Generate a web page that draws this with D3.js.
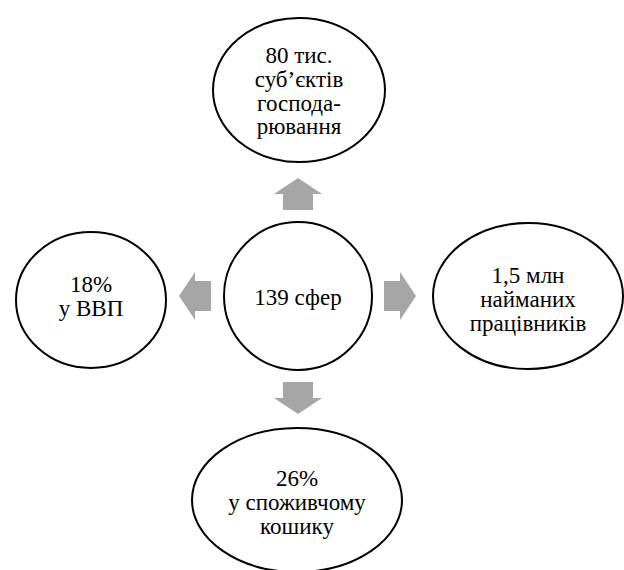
<!DOCTYPE html>
<html lang="uk"><head><meta charset="utf-8">
<script src="https://cdn.jsdelivr.net/npm/d3@7"></script>
</head><body style="margin:0">
<script>
// Data
const nodeIds = ["top", "center", "left", "right", "bottom"];
const nodeLabels = [
  ["80 тис.", "суб’єктів", "господа-", "рювання"],
  ["139 сфер"],
  ["18%", "у ВВП"],
  ["1,5 млн", "найманих", "працівників"],
  ["26%", "у споживчому", "кошику"]
];
const arrowDirections = ["up", "left", "right", "down"];

// Layout (geometry only)
const layout = {
  top:    {cx: 299, cy: 90,  rx: 86, ry: 72, ty: 63},
  center: {cx: 298, cy: 296, rx: 74, ry: 74, ty: 305},
  left:   {cx: 91,  cy: 300, rx: 75, ry: 68, ty: 292},
  right:  {cx: 528, cy: 296, rx: 95, ry: 73, ty: 283},
  bottom: {cx: 297, cy: 500, rx: 105, ry: 72, ty: 486}
};
const arrowLayout = {
  up:    {x: 298, y: 194, angle: -90},
  left:  {x: 195, y: 296, angle: 180},
  right: {x: 400, y: 296, angle: 0},
  down:  {x: 298, y: 398, angle: 90}
};
const lineH = 23.8;

const W = 624, H = 570;
const svg = d3.select("body").append("svg").attr("width", W).attr("height", H);

const arrowPath = d3.path();
arrowPath.moveTo(-16, -15);
arrowPath.lineTo(0, -15);
arrowPath.lineTo(0, -24);
arrowPath.lineTo(16, 0);
arrowPath.lineTo(0, 24);
arrowPath.lineTo(0, 15);
arrowPath.lineTo(-16, 15);
arrowPath.closePath();

svg.selectAll("path.arrow").data(arrowDirections).join("path")
  .attr("class", "arrow")
  .attr("d", arrowPath.toString())
  .attr("fill", "#a6a6a6")
  .attr("transform", d => `translate(${arrowLayout[d].x},${arrowLayout[d].y}) rotate(${arrowLayout[d].angle})`);

const nodes = nodeIds.map((id, i) => ({id, lines: nodeLabels[i], ...layout[id]}));

svg.selectAll("ellipse").data(nodes).join("ellipse")
  .attr("cx", d => d.cx).attr("cy", d => d.cy)
  .attr("rx", d => d.rx).attr("ry", d => d.ry)
  .attr("fill", "#fff").attr("stroke", "#000").attr("stroke-width", 2);

const lines = nodes.flatMap(d => d.lines.map((l, i) => ({text: l, x: d.cx, y: d.ty + i * lineH})));
svg.selectAll("text").data(lines).join("text")
  .attr("x", d => d.x).attr("y", d => d.y)
  .attr("text-anchor", "middle")
  .style("font-family", '"Liberation Serif", "Times New Roman", serif')
  .style("font-size", "23px")
  .attr("fill", "#000")
  .text(d => d.text);
</script>
</body></html>
